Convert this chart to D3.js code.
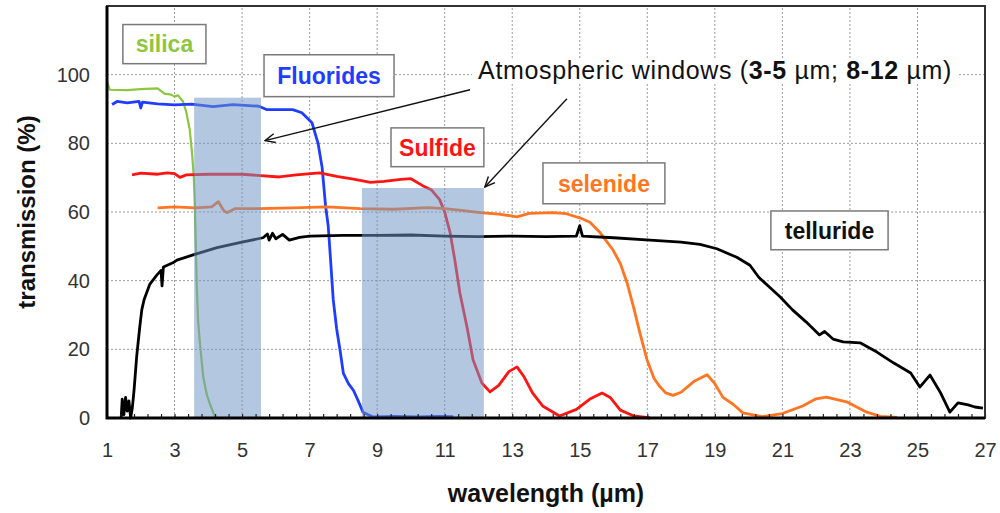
<!DOCTYPE html>
<html>
<head>
<meta charset="utf-8">
<script src="https://cdn.jsdelivr.net/npm/d3@7"></script>
<style>
  body { margin: 0; background: #fff; }
  svg { display: block; font-family: "Liberation Sans", Arial, sans-serif; }
</style>
</head>
<body>
<div id="chart"></div>
<script>
// Transmission spectra, [wavelength (µm), transmission (%)]
const silica = [[1.0,98],[1.08,95.6],[1.6,95.5],[2.0,95.8],[2.5,96.0],[2.7,94.5],[2.9,94.2],[3.0,93.6],[3.1,94.0],[3.25,92.2],
  [3.35,89],[3.45,84],[3.52,77],[3.57,70],[3.6,62],[3.63,50],[3.66,38],[3.7,28],[3.75,22],[3.85,12],[3.95,7],[4.05,4],
  [4.2,0.3],[4.3,0],[5.45,0]];

const fluorides = [[1.15,91.3],[1.3,92.2],[1.6,91.8],[1.95,92.2],[2.0,90.3],[2.05,92],[2.5,91.5],[3.0,91.2],[3.5,91.4],
  [4.14,90.7],[4.73,91.3],[5.2,91],[5.5,90.8],[5.74,89.8],[6.5,89.8],[6.77,88.9],[7.07,86],[7.25,80],[7.37,73],[7.47,62],
  [7.55,56],[7.6,49],[7.7,34.4],[7.8,26],[7.9,19.8],[8.0,13],[8.15,10],[8.3,8],[8.43,5.2],[8.58,1.7],[8.88,0.3],[9.5,0.5],
  [10.2,0.3],[10.8,0.5],[11.25,0.4]];

const sulfide = [[1.74,70.8],[2.0,71.3],[2.5,71],[2.78,71.4],[3.0,71.2],[3.16,70.1],[3.35,70.8],[4,71],[5,71],[6.1,70.2],
  [6.6,70.8],[7.3,71.4],[7.8,70.4],[8.3,69.6],[8.8,68.6],[9.2,68.9],[9.7,69.5],[10.0,69.7],[10.36,67.6],[10.6,66.5],
  [10.85,63.6],[11.0,60],[11.16,54],[11.3,46],[11.45,36.4],[11.66,26.5],[11.84,17],[12.1,10.2],[12.34,7.6],[12.6,9.5],
  [12.9,13.5],[13.14,14.9],[13.35,12],[13.6,7.3],[13.9,3.5],[14.4,0.6],[14.9,2.5],[15.3,5.5],[15.66,7.3],[15.9,6],
  [16.2,2.3],[16.6,0.6],[17.08,0]];

const selenide = [[2.5,61.2],[3.0,61.5],[3.6,61.2],[4.1,61.5],[4.3,63],[4.45,60.5],[4.55,59.8],[4.8,61],[5.5,61],[6.5,61.2],
  [7.5,61.5],[8.5,61],[9.5,60.8],[10.5,61.3],[11,61],[11.5,60.5],[12.05,59.8],[12.6,59.4],[13.14,58.6],[13.5,59.6],
  [14.2,59.8],[14.6,59.5],[15.0,58.3],[15.3,57],[15.6,54],[15.98,49],[16.2,45],[16.4,39.4],[16.6,32],[16.78,24.8],
  [16.99,17],[17.2,11.5],[17.38,9],[17.55,7.3],[17.76,6.6],[18.0,7.5],[18.4,10.8],[18.77,12.6],[19.0,10],[19.24,6],
  [19.54,4],[19.83,1.5],[20.4,0.4],[21.0,1.3],[21.6,3.5],[22.0,5.6],[22.3,6.1],[22.9,4.7],[23.5,1.7],[23.9,0.5],[24.4,0.2]];

const telluride = [[1.42,0],[1.45,5.5],[1.5,1],[1.55,6],[1.6,2],[1.65,5],[1.7,0],[1.75,3],[1.8,8],[1.88,18],[1.97,26.5],
  [2.03,31.5],[2.1,34.5],[2.27,39],[2.48,41.7],[2.6,43],[2.63,38.5],[2.67,44],[2.95,45.2],[3.07,46],[3.55,47.5],[4.26,49.6],
  [5.03,51.3],[5.62,52.5],[5.75,53.6],[5.8,51.8],[5.9,53.8],[6.0,52.2],[6.2,53.5],[6.4,51.8],[6.7,52.6],[7.0,53],[8,53.2],
  [9,53.2],[10,53.3],[11,53],[12,52.8],[13,53],[14,52.8],[14.9,53],[15.0,56],[15.08,53],[16,52.5],[17.08,51.8],[18.0,51.2],
  [18.56,50.6],[19.06,49.3],[19.65,46.8],[20.04,44.5],[20.3,41],[20.63,38],[20.93,35.3],[21.3,31.5],[21.7,28],[22.1,24.2],
  [22.25,25.2],[22.5,23],[22.8,22.2],[23.3,21.9],[23.8,19.2],[24.3,16],[24.8,13.1],[25.07,9],[25.37,12.5],[25.67,7.6],
  [25.96,1.7],[26.2,4.4],[26.5,3.8],[26.7,3.2],[26.94,2.9]];

// atmospheric windows as drawn (µm) and their box heights (%)
const windowStart = [3.58, 8.55];
const windowEnd = [5.56, 12.16];
const windowTop = [93.3, 67];

const xTicks = [1, 3, 5, 7, 9, 11, 13, 15, 17, 19, 21, 23, 25, 27];
const yTicks = [0, 20, 40, 60, 80, 100];

const series = [
  {name: "silica", data: silica, color: "#8dc63f", width: 2.2},
  {name: "Fluorides", data: fluorides, color: "#1f3dff", width: 2.8},
  {name: "Sulfide", data: sulfide, color: "#ff1414", width: 2.8},
  {name: "selenide", data: selenide, color: "#ff7522", width: 2.8},
  {name: "telluride", data: telluride, color: "#000000", width: 2.8}
];

// label boxes in data units: [x0, x1, yTop, yBottom]
const labelBoxes = {
  silica: [1.47, 3.93, 114.6, 103.2],
  Fluorides: [5.65, 9.5, 105.8, 93.6],
  Sulfide: [9.41, 12.16, 84.5, 73.2],
  selenide: [13.91, 17.52, 74.3, 62.4],
  telluride: [20.66, 24.13, 60.3, 49]
};

const margin = {top: 6, right: 15, bottom: 95, left: 107};
const W = 1000, H = 513;
const width = W - margin.left - margin.right;
const height = H - margin.top - margin.bottom;

const svg = d3.select("#chart").append("svg")
  .attr("width", W).attr("height", H);

const x = d3.scaleLinear().domain([1, 27]).range([margin.left, margin.left + width]);
const y = d3.scaleLinear().domain([0, 120]).range([margin.top + height, margin.top]);

// arrow marker (open V)
svg.append("defs").append("marker")
  .attr("id", "arr")
  .attr("viewBox", "0 0 12 12")
  .attr("refX", 11).attr("refY", 6)
  .attr("markerWidth", 12).attr("markerHeight", 12)
  .attr("markerUnits", "userSpaceOnUse")
  .attr("orient", "auto")
  .append("path")
  .attr("d", "M1,1.5 L11,6 L1,10.5")
  .attr("fill", "none").attr("stroke", "#111").attr("stroke-width", 1.4);

// Grid
const grid = svg.append("g").attr("stroke", "#9a9a9a").attr("stroke-width", 1).attr("stroke-dasharray", "2,2");
grid.selectAll(".gx").data(xTicks.slice(1, -1)).join("line")
  .attr("x1", d => x(d)).attr("x2", d => x(d))
  .attr("y1", y(0)).attr("y2", y(120));
grid.selectAll(".gy").data(yTicks.slice(1)).join("line")
  .attr("x1", x(1)).attr("x2", x(27))
  .attr("y1", d => y(d)).attr("y2", d => y(d));

// Curves
const line = d3.line().x(d => x(d[0])).y(d => y(d[1]));
svg.append("g").selectAll("path").data(series).join("path")
  .attr("d", d => line(d.data))
  .attr("fill", "none")
  .attr("stroke", d => d.color)
  .attr("stroke-width", d => d.width)
  .attr("stroke-linejoin", "round");

// Shaded windows, drawn on top of the curves
svg.append("g").selectAll("rect").data(windowStart).join("rect")
  .attr("x", d => x(d))
  .attr("width", (d, i) => x(windowEnd[i]) - x(d))
  .attr("y", (d, i) => y(windowTop[i]))
  .attr("height", (d, i) => y(0) - y(windowTop[i]))
  .attr("fill", "#6f94c6")
  .attr("opacity", 0.52);

// Minor ticks on x (inside)
svg.append("g")
  .attr("transform", `translate(0,${y(0)})`)
  .call(d3.axisBottom(x).tickValues(d3.range(0, 66).map(i => 1 + i * 0.4)).tickSize(-4).tickFormat(""))
  .call(g => g.select(".domain").remove())
  .selectAll("line").attr("stroke", "#222").attr("stroke-width", 1.2);

// Tick labels
svg.append("g")
  .attr("transform", `translate(0,${y(0)})`)
  .call(d3.axisBottom(x).tickValues(xTicks).tickSize(0).tickPadding(25))
  .call(g => g.select(".domain").remove())
  .selectAll("text")
  .attr("font-family", "Liberation Sans, Arial, sans-serif")
  .attr("font-size", 20).attr("fill", "#333");

svg.append("g")
  .attr("transform", `translate(${x(1)},0)`)
  .call(d3.axisLeft(y).tickValues(yTicks).tickSize(0).tickPadding(17))
  .call(g => g.select(".domain").remove())
  .selectAll("text")
  .attr("font-family", "Liberation Sans, Arial, sans-serif")
  .attr("font-size", 20).attr("fill", "#333");

// Frame
svg.append("rect")
  .attr("x", x(1)).attr("y", y(120))
  .attr("width", x(27) - x(1)).attr("height", y(0) - y(120))
  .attr("fill", "none").attr("stroke", "#333").attr("stroke-width", 2);
svg.append("path")
  .attr("d", `M${x(1)},${y(120)} V${y(0)} H${x(27)}`)
  .attr("fill", "none").attr("stroke", "#000").attr("stroke-width", 3);

// Label boxes
const lb = svg.append("g");
series.forEach(s => {
  const b = labelBoxes[s.name];
  lb.append("rect")
    .attr("x", x(b[0])).attr("y", y(b[2]))
    .attr("width", x(b[1]) - x(b[0])).attr("height", y(b[3]) - y(b[2]))
    .attr("fill", "#fff").attr("stroke", "#7a7a7a").attr("stroke-width", 1.5);
  lb.append("text")
    .attr("x", (x(b[0]) + x(b[1])) / 2)
    .attr("y", (y(b[2]) + y(b[3])) / 2)
    .attr("dy", "0.36em")
    .attr("text-anchor", "middle")
    .attr("font-size", 23).attr("font-weight", "bold")
    .attr("fill", s.color === "#000000" ? "#111" : s.color)
    .text(s.name);
});

// Annotation text with white background
const ann = svg.append("g");
const annText = ann.append("text")
  .attr("x", x(11.99)).attr("y", y(98.6))
  .attr("font-size", 25).attr("fill", "#111")
  .attr("letter-spacing", "0.65");
annText.append("tspan").text("Atmospheric windows (");
annText.append("tspan").attr("font-weight", "bold").text("3-5");
annText.append("tspan").text(" µm; ");
annText.append("tspan").attr("font-weight", "bold").text("8-12");
annText.append("tspan").text(" µm)");
const bb = annText.node().getBBox();
ann.insert("rect", "text")
  .attr("x", bb.x - 6).attr("y", bb.y + 2)
  .attr("width", bb.width + 12).attr("height", bb.height - 4)
  .attr("fill", "#fff");

// Arrows
const arrows = [[[11.75, 95.6], [5.68, 80.8]], [[14.62, 93], [12.19, 67.3]]];
svg.append("g").selectAll("line").data(arrows).join("line")
  .attr("x1", d => x(d[0][0])).attr("y1", d => y(d[0][1]))
  .attr("x2", d => x(d[1][0])).attr("y2", d => y(d[1][1]))
  .attr("stroke", "#111").attr("stroke-width", 1.4)
  .attr("marker-end", "url(#arr)");

// Axis titles
svg.append("text")
  .attr("transform", `translate(27,${(y(0) + y(120)) / 2}) rotate(-90)`)
  .attr("dy", "0.35em")
  .attr("text-anchor", "middle")
  .attr("font-size", 24).attr("font-weight", "bold").attr("fill", "#111")
  .text("transmission (%)");

svg.append("text")
  .attr("x", (x(1) + x(27)) / 2)
  .attr("y", 502)
  .attr("text-anchor", "middle")
  .attr("font-size", 25).attr("font-weight", "bold").attr("fill", "#111")
  .text("wavelength (µm)");
</script>
</body>
</html>
